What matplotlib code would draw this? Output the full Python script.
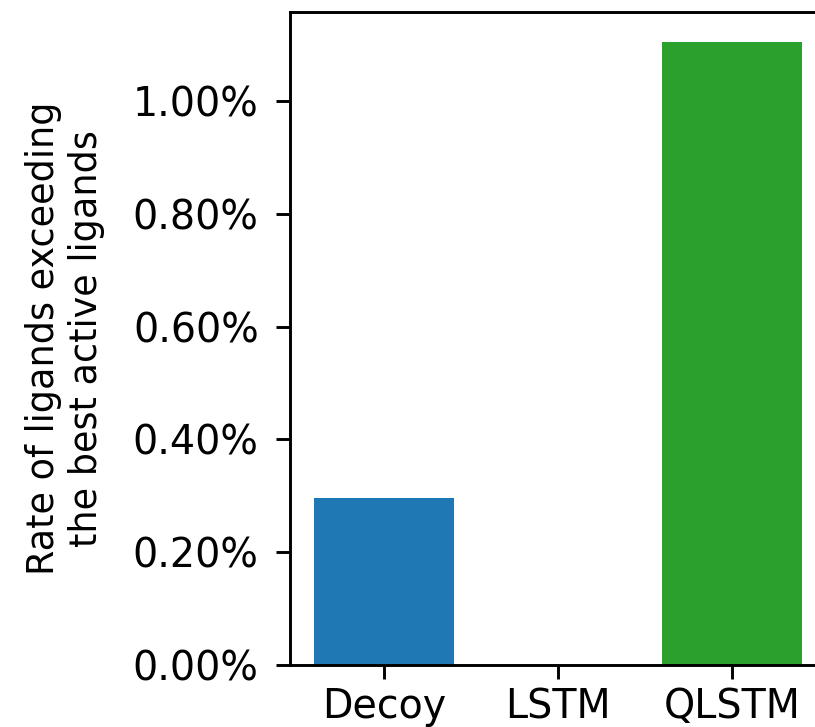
import matplotlib
matplotlib.use("Agg")
import matplotlib.pyplot as plt
from matplotlib.ticker import PercentFormatter

# rate (in percent) of generated ligands scoring better than the best active ligand
modelos = ["Decoy", "LSTM", "QLSTM"]
tasas = [0.296, 0.0, 1.105]
colores = ["tab:blue", "tab:orange", "tab:green"]

fig = plt.figure(figsize=(8.15, 7.27), dpi=100)
ax = fig.add_axes([290 / 815, 62 / 727, 536 / 815, 653 / 727])

ax.bar(modelos, tasas, color=colores, width=0.8)
ax.set_ylim(0, 1.158)
ax.yaxis.set_major_formatter(PercentFormatter(xmax=100, decimals=2))
ax.set_yticks([0, 0.2, 0.4, 0.6, 0.8, 1.0])

ax.set_ylabel("Rate of ligands exceeding\nthe best active ligands", fontsize=26.3, labelpad=20)
ax.tick_params(labelsize=28.5, length=10, width=2.1)
ax.tick_params(axis="y", pad=12.5)
ax.tick_params(axis="x", pad=6)
for sp in ax.spines.values():
    sp.set_linewidth(2.1)

fig.savefig("out.png", dpi=100)
